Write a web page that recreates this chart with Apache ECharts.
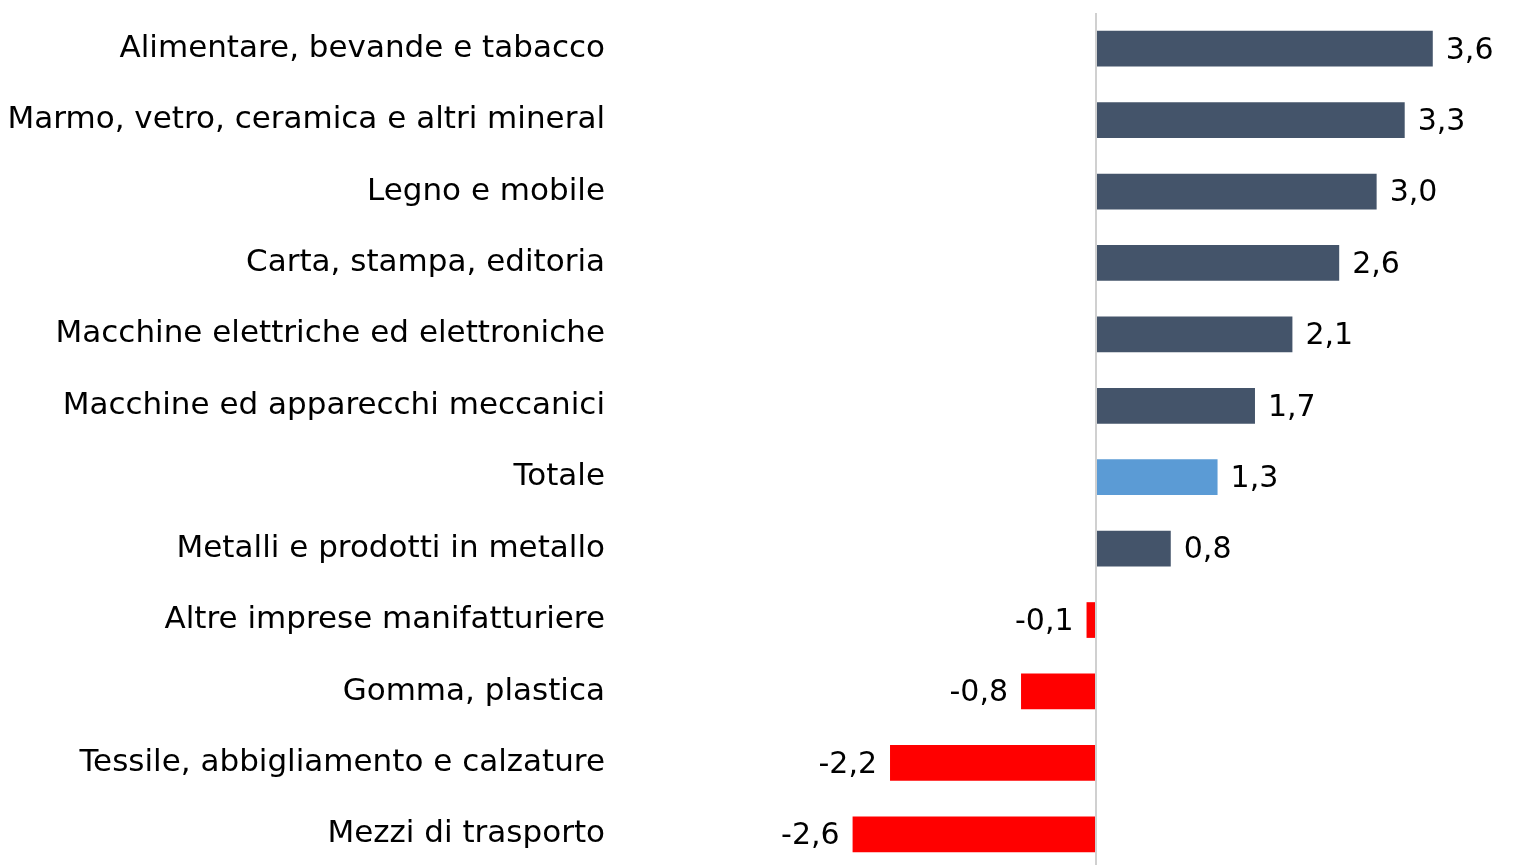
<!DOCTYPE html>
<html>
<head>
<meta charset="utf-8">
<script src="https://cdn.jsdelivr.net/npm/echarts@6/dist/echarts.min.js"></script>
<style>
  html, body { margin: 0; padding: 0; background: #fff; overflow: hidden; }
  #chart { width: 1540px; height: 880px; }
</style>
</head>
<body>
<div id="chart"></div>
<script>
// settori, dall'alto verso il basso
const categories = [
  'Alimentare, bevande e tabacco',
  'Marmo, vetro, ceramica e altri mineral',
  'Legno e mobile',
  'Carta, stampa, editoria',
  'Macchine elettriche ed elettroniche',
  'Macchine ed apparecchi meccanici',
  'Totale',
  'Metalli e prodotti in metallo',
  'Altre imprese manifatturiere',
  'Gomma, plastica',
  'Tessile, abbigliamento e calzature',
  'Mezzi di trasporto'
];
const values = [3.6, 3.3, 3.0, 2.6, 2.1, 1.7, 1.3, 0.8, -0.1, -0.8, -2.2, -2.6];

const FONT = 'DejaVu Sans';

const chart = echarts.init(document.getElementById('chart'));

const option = {
  animation: false,
  grid: {
    left: 628,
    right: 23,
    top: 13,
    height: 857,
    outerBoundsMode: 'none'
  },
  xAxis: {
    type: 'value',
    min: -5,
    max: 4.5,
    show: false
  },
  yAxis: {
    type: 'category',
    data: categories,
    inverse: true,
    axisLine: { show: false },
    axisTick: { show: false },
    axisLabel: {
      margin: 23,
      color: '#000',
      fontFamily: FONT,
      fontSize: 31
    }
  },
  series: [{
    type: 'bar',
    data: values.map(function (v) {
      // etichette negative a sinistra della barra
      return v < 0 ? { value: v, label: { position: 'left' } } : v;
    }),
    barWidth: '50%',
    itemStyle: {
      color: function (p) {
        if (p.value < 0) return '#FF0000';
        if (p.name === 'Totale') return '#5B9BD5';
        return '#44546A';
      }
    },
    label: {
      show: true,
      position: 'right',
      distance: 13,
      color: '#000',
      fontFamily: FONT,
      fontSize: 30,
      offset: [0, 2],
      formatter: function (p) {
        return p.value.toFixed(1).replace('.', ',');
      }
    },
    markLine: {
      silent: true,
      symbol: 'none',
      label: { show: false },
      lineStyle: { color: '#d0d0d0', width: 2, type: 'solid' },
      data: [{ xAxis: 0 }]
    }
  }]
};

chart.setOption(option);
</script>
</body>
</html>
